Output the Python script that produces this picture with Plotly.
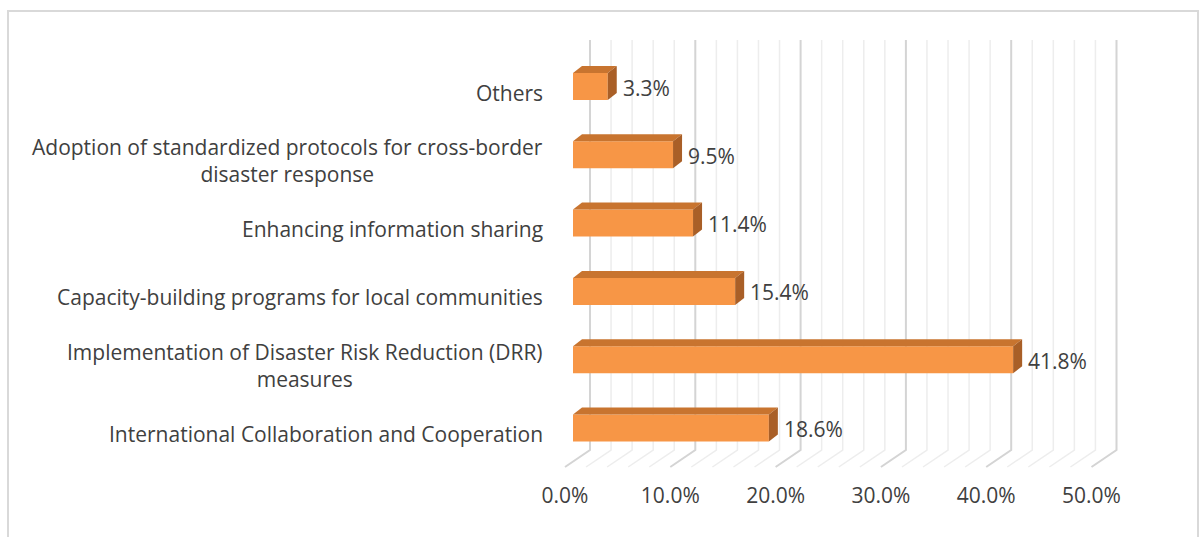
import plotly.graph_objects as go

# ---------------- data ----------------
categories = [
    "International Collaboration and Cooperation",
    "Implementation of Disaster Risk Reduction (DRR)<br>measures",
    "Capacity-building programs for local communities",
    "Enhancing information sharing",
    "Adoption of standardized protocols for cross-border<br>disaster response",
    "Others",
]
values = [18.6, 41.8, 15.4, 11.4, 9.5, 3.3]
major_ticks = [0, 10, 20, 30, 40, 50]
tick_labels = ["0.0%", "10.0%", "20.0%", "30.0%", "40.0%", "50.0%"]
minor_ticks = list(range(0, 52, 2))

# ---------------- geometry / style ----------------
W, H = 1200, 537
L, R, T, B = 555, 1130, 35, 470          # plot area in pixels
KX = 10.53                               # px per percent
X0PX = 573                               # pixel of 0 on the bar (front) plane
KY = 68.3                                # px per category
Y0PX = 428                               # pixel of first category centre

xr = [(L - X0PX) / KX, (R - X0PX) / KX]
yr = [(Y0PX - B) / KY, (Y0PX - T) / KY]

BAR_W = 27 / KY                          # front face height
DX, DY = 9 / KX, 7 / KY                  # bar depth
BACK_DX = 17 / KX                        # back wall offset
FRONT_DX = -8 / KX                       # front floor offset
WALL_BOT = (Y0PX - 450) / KY
WALL_TOP = (Y0PX - 40) / KY
FLOOR_FRONT = (Y0PX - 467) / KY

FRONT_C = "#F79646"
TOP_C = "#C8742F"
SIDE_C = "#A95F27"
TXT = "#404040"
FONT = "Open Sans"
FS = 21

fig = go.Figure()

# back wall gridlines + floor diagonals (base subplot)
for g in minor_ticks:
    major = g % 10 == 0
    col = "#D4D4D4" if major else "#EDEDED"
    w = 2 if major else 1.5
    fig.add_trace(go.Scatter(
        x=[g + FRONT_DX, g + BACK_DX, g + BACK_DX],
        y=[FLOOR_FRONT, WALL_BOT, WALL_TOP],
        mode="lines", line=dict(color=col, width=w),
        hoverinfo="skip", showlegend=False, xaxis="x", yaxis="y"))

idx = list(range(len(categories)))

# bar front faces (overlay subplot, drawn above gridlines)
fig.add_trace(go.Bar(
    y=idx, x=values, orientation="h", width=BAR_W,
    marker=dict(color=FRONT_C, line=dict(width=0)),
    hoverinfo="skip", showlegend=False, xaxis="x2", yaxis="y2"))

# top & side faces
for i, v in zip(idx, values):
    top = i + BAR_W / 2
    bot = i - BAR_W / 2
    fig.add_trace(go.Scatter(
        x=[0, v, v + DX, DX, 0], y=[top, top, top + DY, top + DY, top],
        fill="toself", fillcolor=TOP_C, mode="lines",
        line=dict(width=0, color=TOP_C), hoverinfo="skip", showlegend=False,
        xaxis="x2", yaxis="y2"))
    fig.add_trace(go.Scatter(
        x=[v, v + DX, v + DX, v, v], y=[bot, bot + DY, top + DY, top, bot],
        fill="toself", fillcolor=SIDE_C, mode="lines",
        line=dict(width=0, color=SIDE_C), hoverinfo="skip", showlegend=False,
        xaxis="x2", yaxis="y2"))

annotations = []
# value labels
for i, v in zip(idx, values):
    annotations.append(dict(
        x=v + DX, y=i, xref="x", yref="y", xanchor="left", yanchor="middle",
        xshift=4, yshift=-1, text=f"{v:.1f}%", showarrow=False,
        font=dict(family=FONT, size=FS, color=TXT)))
# category labels
for i, c in zip(idx, categories):
    annotations.append(dict(
        x=0, y=i, xref="paper", yref="y", xanchor="right", yanchor="middle",
        xshift=-10, yshift=-6, text=c, showarrow=False, align="center",
        font=dict(family=FONT, size=FS, color=TXT)))

px = lambda p: (p - L) / (R - L)
py = lambda p: (B - p) / (B - T)

hidden = dict(showgrid=False, zeroline=False, showline=False,
              showticklabels=False, fixedrange=True)

fig.update_layout(
    width=W, height=H, autosize=False,
    margin=dict(l=L, r=W - R, t=T, b=H - B, pad=0),
    paper_bgcolor="white", plot_bgcolor="white",
    barmode="overlay",
    annotations=annotations,
    shapes=[dict(type="rect", xref="paper", yref="paper",
                 x0=px(8), x1=px(1198), y0=py(560), y1=py(11),
                 line=dict(color="#D9D9D9", width=2), fillcolor="rgba(0,0,0,0)",
                 layer="below")],
    xaxis=dict(range=xr, showgrid=False, zeroline=False, showline=False,
               tickvals=major_ticks, ticktext=tick_labels,
               ticks="outside", ticklen=7, tickcolor="rgba(0,0,0,0)",
               ticklabelshift=-8,
               tickfont=dict(family=FONT, size=FS, color=TXT), fixedrange=True),
    yaxis=dict(range=yr, **hidden),
    xaxis2=dict(range=xr, overlaying="x", anchor="y2", **hidden),
    yaxis2=dict(range=yr, overlaying="y", anchor="x2", **hidden),
)

fig.write_html("out.html")
